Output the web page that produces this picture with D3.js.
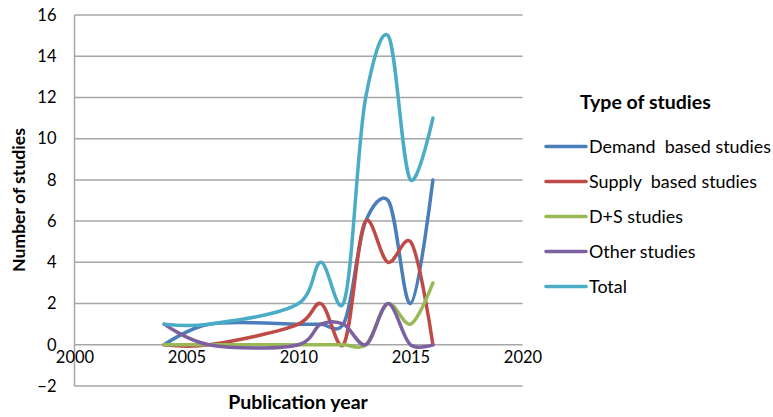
<!DOCTYPE html>
<html>
<head>
<meta charset="utf-8">
<script src="https://cdn.jsdelivr.net/npm/d3@7"></script>
<style>
  html, body { margin: 0; padding: 0; background: #fff; }
  svg { display: block; font-family: Lato, "Open Sans", sans-serif; }
  text { white-space: pre; }
</style>
</head>
<body>
<svg id="chart" width="773" height="417"></svg>
<script>
// Publication years with at least one study
const years = [2004, 2006, 2010, 2011, 2012, 2013, 2014, 2015, 2016];

// Number of studies per type and year
const demand = [0, 1, 1, 1, 1, 6, 7, 2, 8];
const supply = [0, 0, 1, 2, 0, 6, 4, 5, 0];
const dPlusS = [0, 0, 0, 0, 0, 0, 2, 1, 3];
const other  = [1, 0, 0, 1, 1, 0, 2, 0, 0];
const total  = [1, 1, 2, 4, 2, 12, 15, 8, 11];

const seriesNames = ["Demand  based studies", "Supply  based studies", "D+S studies", "Other studies", "Total"];
const seriesValues = [demand, supply, dPlusS, other, total];
const colors = ["#4a7ebb", "#be4b48", "#98b954", "#7d60a0", "#4bacc6"];

const xTicks = [2000, 2005, 2010, 2015, 2020];
const yTicks = [-2, 0, 2, 4, 6, 8, 10, 12, 14, 16];

const svg = d3.select("#chart");
const plot = { left: 74.5, right: 522.5, top: 15, bottom: 386 };

const x = d3.scaleLinear().domain([2000, 2020]).range([plot.left, plot.right]);
const y = d3.scaleLinear().domain([-2, 16]).range([plot.bottom, plot.top]);

// Horizontal gridlines (the bottom one doubles as the plot border)
svg.append("g")
  .selectAll("line")
  .data(yTicks)
  .join("line")
  .attr("x1", plot.left).attr("x2", plot.right)
  .attr("y1", d => y(d)).attr("y2", d => y(d))
  .attr("stroke", "#a6a6a6").attr("stroke-width", 1.5);

// Vertical axis line
svg.append("line")
  .attr("x1", plot.left).attr("x2", plot.left)
  .attr("y1", plot.top).attr("y2", plot.bottom)
  .attr("stroke", "#a6a6a6").attr("stroke-width", 1.5);

// Y tick labels
const yAxis = d3.axisLeft(y).tickValues(yTicks).tickSize(0).tickPadding(0)
  .tickFormat(d => d < 0 ? "\u2212" + Math.abs(d) : String(d));
const gy = svg.append("g").attr("transform", `translate(${plot.left - 18},0)`).call(yAxis);
gy.select(".domain").remove();
gy.selectAll("text").attr("font-size", 16.5).attr("font-family", "Lato, sans-serif").attr("fill", "#000");

// X tick labels, placed just under the zero line
const xAxis = d3.axisBottom(x).tickValues(xTicks).tickSize(0).tickPadding(0).tickFormat(d3.format("d"));
const gx = svg.append("g").attr("transform", `translate(0,${y(0) + 17})`).call(xAxis);
gx.select(".domain").remove();
gx.selectAll("text").attr("font-size", 16.5).attr("font-family", "Lato, sans-serif").attr("fill", "#000").attr("dy", "0.1em");

// Smoothed series lines
const line = d3.line()
  .x((d, i) => x(years[i]))
  .y(d => y(d))
  .curve(d3.curveCatmullRom.alpha(0.2));

svg.append("g")
  .selectAll("path")
  .data(seriesValues)
  .join("path")
  .attr("d", d => line(d))
  .attr("fill", "none")
  .attr("stroke", (d, i) => colors[i])
  .attr("stroke-width", 3.5)
  .attr("stroke-linejoin", "round")
  .attr("stroke-linecap", "round");

// Axis titles
svg.append("text")
  .attr("x", 298).attr("y", 409)
  .attr("text-anchor", "middle")
  .attr("font-size", 19.5).attr("font-weight", "bold")
  .text("Publication year");

svg.append("text")
  .attr("transform", "translate(25,200) rotate(-90)")
  .attr("text-anchor", "middle")
  .attr("font-size", 17.6).attr("font-weight", "bold")
  .text("Number of studies");

// Legend
const legend = svg.append("g");
legend.append("text")
  .attr("x", 580).attr("y", 109)
  .attr("font-size", 19.5).attr("font-weight", "bold")
  .text("Type of studies");

const rows = legend.selectAll("g.item")
  .data(seriesNames)
  .join("g")
  .attr("class", "item")
  .attr("transform", (d, i) => `translate(0,${146.5 + i * 35})`);

rows.append("line")
  .attr("x1", 546).attr("x2", 586)
  .attr("stroke", (d, i) => colors[i])
  .attr("stroke-width", 3.5)
  .attr("stroke-linecap", "round");

rows.append("text")
  .attr("x", 589).attr("y", 0).attr("dy", "0.35em")
  .attr("font-size", 17.9)
  .text(d => d);
</script>
</body>
</html>
